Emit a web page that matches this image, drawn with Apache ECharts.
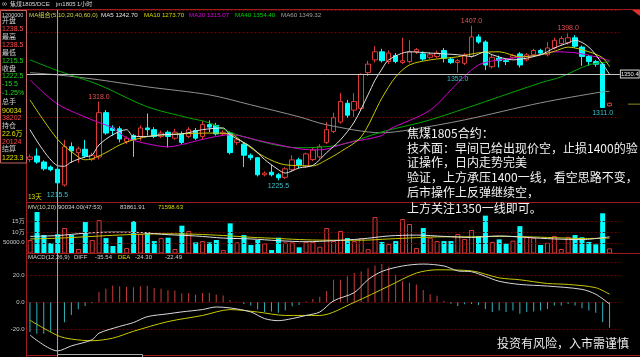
<!DOCTYPE html>
<html><head><meta charset="utf-8">
<script src="https://cdn.jsdelivr.net/npm/echarts@6/dist/echarts.min.js"></script>
<style>html,body{margin:0;padding:0;background:#000;}#c{width:640px;height:357px;}</style>
</head><body><div id="c"></div>
<script>
// ---------- data ----------
const categories = Array.from({length: 86}, (_, i) => 'K' + (i + 1));
// [open, close, low, high]
const candles = [
[1250,1253,1247,1256],[1254,1247,1245,1263],[1247,1239,1237,1249],[1241,1238,1236,1243],[1238.5,1222.5,1215.5,1238.5],
[1220,1265,1218,1273],[1265,1260,1246,1270],[1258,1262.5,1246,1265],[1262,1254,1252,1273],[1250,1255,1248,1258],
[1253,1305,1250,1318],[1305,1281,1279,1308],[1287,1284,1278,1290],[1286,1274,1270,1289],[1271,1275,1268,1277],
[1278,1273,1253,1280],[1277,1287,1272,1290],[1287,1285,1278,1304],[1285,1277,1275,1288],[1277,1281,1275,1284],
[1282,1277,1264,1284],[1275,1282,1273,1286],[1280,1270,1268,1283],[1277,1285,1275,1288],[1284,1275,1273,1287],
[1277,1291,1274,1295],[1291,1288,1282,1296],[1290,1280,1278,1293],[1280,1282,1278,1284],[1281,1258,1256,1283],
[1270,1273,1267,1275],[1268,1255,1241,1270],[1255,1252,1249,1257],[1252,1232,1230,1253],[1232,1234,1230,1236],
[1235,1232,1230,1244],[1232,1228.5,1225.5,1234],[1229,1239,1227,1241],[1238,1249.5,1236,1255],[1249.5,1243.5,1240,1252],
[1242,1256.5,1240,1258],[1250,1261,1248,1264],[1253,1265,1251,1268],[1270,1285,1268,1294],[1283,1299,1281,1305],
[1294,1318,1292,1328],[1316,1302,1299,1320],[1308,1318,1300,1328],[1310,1350,1308,1351],[1352,1362,1348,1366],
[1367,1376.5,1364,1383],[1376.5,1366,1364,1380],[1365,1375,1362,1378],[1372,1365,1363,1375],[1364,1366,1362,1393],
[1365,1376.5,1363,1390],[1376.5,1379,1374,1381],[1374,1368,1366,1377],[1370,1373,1368,1376],[1371,1375,1369,1378],
[1378,1369,1364,1381],[1368,1364,1362,1370],[1364,1366,1352,1368],[1363,1373,1361,1375],[1371,1394,1369,1407],
[1394,1388,1386,1397],[1388,1361,1355,1390],[1359,1370,1357,1373],[1369,1366,1358,1372],[1366,1365,1361,1368],
[1370,1372,1368,1374],[1374,1361,1358,1376],[1367,1373,1365,1375],[1373,1378,1371,1380],[1378,1375,1373,1380],
[1373,1381,1371,1388],[1381,1390,1379,1393],[1386,1392,1384,1395],[1387,1393,1385,1398],[1393,1383,1381,1396],
[1382,1371,1360,1384],[1371,1365,1360,1373],[1365,1362,1359,1367],[1362,1311,1311,1363],[1313,1316,1312,1317]
];
const volumes = [
63000,194000,86500,49000,90034,119000,86500,21000,147000,63000,
156000,72000,35000,78000,26000,152000,91000,100000,58000,72000,
74000,21000,130000,105000,52000,58000,52000,63000,16000,141000,
52000,86000,40000,63000,47000,16000,74000,52000,52000,29000,
55000,55000,32000,119000,58000,105000,72000,58000,72000,20000,
170000,54000,44000,58000,161000,138000,26000,119000,74000,58000,
58000,58000,91000,68000,110000,82000,177000,54000,66000,46000,
60000,128000,78000,74000,40000,50000,82000,21000,78000,86000,
76000,54000,43000,188000,24000
];
const macdHist = [
-21.7,-22.9,-22.9,-21.7,-22.49,-14.5,-9.3,-5,-2.6,-0.7,
7.6,10,12.4,11.7,11.2,11,11.7,12.1,10.5,10,
8.8,8.6,6.4,6.9,5.7,6.9,6.9,5.7,5,1.7,
0.5,-1.2,-2.4,-5.2,-7.1,-6.7,-7.6,-6,-2.9,-1.9,
0.8,2.5,4,8.3,16.6,16.6,19,21.4,22.6,25,
27,28,26,20.2,15.5,14.3,13,9,5.9,4.8,
1.2,-1,-2.7,-1.4,-1.2,-1.9,-4.8,-7.1,-6,-7.1,
-6,-8.3,-7.1,-6.7,-6,-4.8,-2.4,-2.4,-1.2,-2.4,
-4.3,-6,-7.6,-14.3,-18.6
];
// moving-average lines: [candle index, value]
const ma5 = [[0,1285],[4,1242.7],[5,1242],[6,1247],[8,1253],[9,1255],[10,1267],[12,1279],[14,1285],[15,1277],[17,1277],[19,1279],[22,1280],[25,1285],[28,1287],[29,1279],[32,1265],[34,1250],[36,1238],[37,1234],[39,1240],[41,1243],[43,1258],[45,1273],[47,1294],[49,1326],[50,1343],[51,1356],[52,1367],[55,1376.5],[58,1375],[62,1373],[64,1371],[66,1376.5],[67,1373],[70,1367],[74,1373],[76,1381],[78,1387],[79,1390],[81,1382],[83,1362],[84,1350]];
const ma10 = [[0,1320],[4,1273.7],[7,1253],[8,1249.6],[9,1250.7],[11,1258],[13,1267],[15,1273],[18,1278],[26,1281],[29,1280],[31,1269.5],[34,1253],[37,1243.7],[41,1242.5],[43,1249.6],[45,1259],[48,1276.6],[51,1322],[53,1347],[55,1361],[58,1367],[62,1370.6],[65,1375.3],[68,1376.5],[71,1370.6],[74,1373],[76,1377],[78,1382],[81,1376.5],[83,1369.4],[84,1359]];
const ma20 = [[0,1343.6],[4,1315.07],[9,1296.5],[12,1287],[14,1275.4],[17,1268.4],[20,1264.8],[23,1269.5],[26,1275.4],[29,1279],[34,1270.7],[39,1262.5],[42,1261.3],[46,1269.5],[51,1278],[52,1285],[58,1308],[62,1340],[65,1361],[68,1367],[74,1373],[76,1376.5],[79,1375.3],[82,1370.6],[84,1366]];
const ma40 = [[0,1367],[4,1354.4],[10,1337.7],[17,1311.8],[23,1298.9],[26,1293],[30,1279],[39,1263.7],[45,1267.2],[51,1282.4],[58,1296.5],[74,1340],[77,1347.1],[81,1361.2],[84,1364.7]];
const ma60 = [[0,1352],[4,1349.32],[10,1343.6],[17,1335.3],[26,1325.9],[32,1314.2],[39,1300.1],[43,1290.7],[51,1281.3],[55,1284.8],[63,1296.5],[74,1316.5],[83,1329.5],[84,1330]];
const mv10 = [[0,80000],[4,83862],[8,95000],[12,100000],[16,98000],[20,88000],[24,82000],[28,72000],[32,68000],[36,60000],[40,55000],[44,60000],[48,68000],[52,82000],[56,86000],[60,80000],[64,75000],[68,82000],[72,75000],[76,68000],[80,65000],[84,78000]];
const mv20 = [[0,68000],[4,71599],[8,78000],[12,85000],[16,90000],[20,92000],[24,90000],[28,84000],[32,76000],[36,70000],[40,64000],[44,62000],[48,62000],[52,68000],[56,74000],[60,78000],[64,78000],[68,80000],[72,78000],[76,74000],[80,70000],[84,72000]];
const diffLine = [[0,-23.9],[4,-35.54],[6,-31.9],[9,-27.4],[10,-22.6],[13,-17.6],[15,-14.8],[17,-10.5],[20,-8.4],[22,-7],[25,-5.3],[27,-3.4],[29,-4.1],[32,-7],[34,-11.9],[36,-13.4],[38,-11.9],[40,-9.6],[42,-7.1],[44,1.1],[47,7.1],[49,16.6],[51,22.6],[54,26.6],[57,28],[60,26.6],[62,23],[64,22.4],[66,19],[68,15.4],[71,13.1],[75,11.9],[80,9.5],[82,5.9],[84,-1.2]];
const deaLine = [[0,-13.1],[4,-24.30],[6,-26.9],[9,-28.1],[12,-26.2],[15,-21.2],[20,-14.1],[25,-9.6],[29,-5.3],[33,-7.1],[37,-9.6],[42,-9.6],[47,0],[52,11.9],[56,21.4],[59,23.8],[64,23],[68,17.9],[71,16.5],[75,13.8],[78,13.1],[82,10.7],[84,5.9]];
const highLabels = [[10,1318.0],[64,1407.0],[78,1398.0]];
const lowLabels = [[4,1215.5],[36,1225.5],[62,1352.0],[83,1311.0]];
const refPrice = 1350.4;
const sideMarkPrice = 1315;
const crossIndex = 4;
const volTickLabels = {50000:'50000.0', 100000:'10万', 150000:'15万'};
const volGridLines = [50000, 100000, 150000];
const infoRows = [
 ['1200000','#d0d0d0'],['开盘','#d0d0d0'],['1238.5','#ff4a4a'],['最高','#d0d0d0'],['1238.5','#ff4a4a'],
 ['最低','#d0d0d0'],['1215.5','#20d020'],['收盘','#d0d0d0'],['1222.5','#20d020'],['-15.5','#20d020'],
 ['-1.25%','#20d020'],['总手','#d0d0d0'],['90034','#e0e000'],['38202','#ff4a4a'],['持仓','#d0d0d0'],
 ['22.6万','#e0e000'],['20124','#ff4a4a'],['结算','#d0d0d0'],['1223.3','#e0e000']
];
const infoY = [15,21,29,37,45,53,61,69,76,84,93,102,111,118,126,134,142,149,158];
const maLegend = [['MA组合(5,10,20,40,60,0)',29,'#d0d040'],['MA5 1242.70',101,'#e0e0e0'],['MA10 1273.70',144,'#d8d800'],['MA20 1315.07',189,'#e000e0'],['MA40 1354.40',235,'#00d000'],['MA60 1349.32',281,'#a0a0a0']];
const mvLegend = [['MV(10,20)',28,'#d0d0b0'],['90034.00(47:53)',58,'#d0d0d0'],['83861.91',120,'#d0d0d0'],['71598.63',158,'#d8d800']];
const macdLegend = [['MACD(12,26,9)',28,'#d0d0d0'],['DIFF',74,'#d0d0d0'],['-35.54',95,'#d0d0d0'],['DEA',118,'#d8d800'],['-24.30',135,'#d0d0d0'],['-22.49',165,'#d0d0d0']];
const noteLines = ['焦煤1805合约：','技术面：早间已给出现价空，止损1400的验','证操作，日内走势完美','验证，上方承压1400一线，看空思路不变，','后市操作上反弹继续空，','上方关注1350一线即可。'];
const noteY = [133,148,162.5,177.5,192,208];

// ---------- chart ----------
const RED = '#dc3a38', CYAN = '#00ffff', GRIDRED = '#6e0000', BORDER = '#a01c1c';
const SMALL = '"Liberation Sans","Noto Sans CJK SC"';
const GL = 26.5, GW = 593.4;
const chart = echarts.init(document.getElementById('c'), null, {width:640, height:357});
const hidden = {show:false};
const line = (data, color, xi, yi, z) => ({type:'line', data, xAxisIndex:xi, yAxisIndex:yi, symbol:'none', smooth:0.3, z:z||3,
  lineStyle:{color, width:1}, silent:true});

const option = {
  backgroundColor:'#000',
  animation:false,
  grid:[
    {left:GL, width:GW, top:10, height:192},
    {left:GL, width:GW, top:203, height:50.5},
    {left:GL, width:GW, top:262.7, height:96.6}
  ],
  xAxis:[0,1,2].map(g => ({type:'category', gridIndex:g, data:categories, boundaryGap:true,
    axisLine:hidden, axisTick:hidden, axisLabel:hidden, splitLine:hidden})),
  yAxis:[
    {type:'value', gridIndex:0, min:1200, max:1425.6, interval:100, axisLine:hidden, axisTick:hidden, axisLabel:hidden,
     splitLine:{show:true, lineStyle:{color:GRIDRED, type:[2,2], width:1}}},
    {type:'value', gridIndex:1, min:0, max:236000, interval:50000, axisLine:hidden, axisTick:hidden,
     axisLabel:{show:true, fontSize:6, color:'#c8c8c8', margin:2, fontFamily:SMALL, formatter:v => volTickLabels[v] || ''},
     splitLine:hidden},
    {type:'value', gridIndex:2, min:-40, max:29, interval:20, axisLine:hidden, axisTick:hidden,
     axisLabel:{show:true, fontSize:6, color:'#c8c8c8', margin:2, fontFamily:SMALL, formatter:v => (v > -40 && v < 29) ? v.toFixed(1) : ''},
     splitLine:{show:true, lineStyle:{color:GRIDRED, type:[2,2], width:1}}}
  ],
  series:[
    {type:'candlestick', xAxisIndex:0, yAxisIndex:0, data:candles, barWidth:5, silent:true,
     itemStyle:{color:'#000', color0:CYAN, borderColor:RED, borderColor0:CYAN, borderWidth:1},
     markLine:{symbol:['none','none'], silent:true, animation:false,
       lineStyle:{color:'#c8c8c8', width:1, type:'solid'},
       label:{show:true, position:'end', distance:1, formatter:refPrice.toFixed(1), color:'#e8e8e8', fontSize:5.8, fontFamily:SMALL,
              backgroundColor:'#000', borderColor:'#c8c8c8', borderWidth:1, padding:[1,0,0,0]},
       data:[{yAxis:refPrice}]},
     markPoint:{symbol:'rect', symbolSize:[1,1], silent:true, animation:false, itemStyle:{color:'rgba(0,0,0,0)'},
       data:[
         ...highLabels.map(([i,v]) => ({coord:[i,v], value:v, label:{show:true, position:'top', distance:1, color:'#e85050', fontSize:7, fontFamily:SMALL, formatter:p => p.value.toFixed(1)}})),
         ...lowLabels.map(([i,v]) => ({coord:[i,v], value:v, label:{show:true, position:'bottom', distance:2, color:'#38c0c8', fontSize:7, fontFamily:SMALL, formatter:p => p.value.toFixed(1)}}))
       ]}
    },
    line(ma60,'#909090',0,0),
    line(ma40,'#00a800',0,0),
    line(ma20,'#d000d0',0,0),
    line(ma10,'#c8c800',0,0),
    line(ma5,'#e0e0e0',0,0),
    {type:'bar', xAxisIndex:1, yAxisIndex:1, barWidth:5, silent:true,
     data:volumes.map((v,i) => ({value:v, itemStyle: candles[i][1] >= candles[i][0] ? {color:'#000', borderColor:RED, borderWidth:1} : {color:CYAN}})),
     markLine:{symbol:['none','none'], silent:true, animation:false, label:hidden,
       lineStyle:{color:GRIDRED, type:[2,2], width:1}, data:volGridLines.map(v => ({yAxis:v}))}},
    line(mv20,'#c8c800',1,1,4),
    line(mv10,'#e0e0e0',1,1,4),
    {type:'bar', xAxisIndex:2, yAxisIndex:2, barWidth:1, silent:true,
     data:macdHist.map(v => ({value:v, itemStyle:{color: v >= 0 ? '#c83c3c' : '#30b4bc'}}))},
    line(deaLine,'#c8c800',2,2,4),
    line(diffLine,'#d8d8d8',2,2,4)
  ]
};
chart.setOption(option);

// ---------- annotations ----------
const cx = chart.convertToPixel({xAxisIndex:0}, categories[crossIndex]);
const sideY = chart.convertToPixel({yAxisIndex:0}, sideMarkPrice);
const T = (x, y, text, fill, size, family, z) => ({type:'text', x, y, z:z||100, silent:true,
  style:{text, fill, fontSize:size, fontFamily:family||SMALL, verticalAlign:'middle', align:'left'}});
const L = (x1,y1,x2,y2,stroke,z) => ({type:'line', z:z||90, silent:true, shape:{x1,y1,x2,y2}, style:{stroke, lineWidth:1}});
const g = [];
// borders
g.push(L(0,9.5,640,9.5,BORDER));
g.push(L(26.5,9.5,26.5,357,BORDER));
g.push(L(26.5,202.5,640,202.5,BORDER));
g.push(L(26.5,253.5,640,253.5,BORDER));
g.push(L(26.5,355.5,640,355.5,BORDER));
g.push({type:'polygon', z:95, silent:true, shape:{points:[[632,10],[640,10],[640,16]]}, style:{fill:'#e03030'}});
g.push({type:'rect', z:95, silent:true, shape:{x:0.5,y:10.5,width:26,height:152.5}, style:{stroke:'#c46464', fill:'none', lineWidth:1}});
// crosshair
g.push(L(cx,10,cx,357,'#a8a8a8',96));
g.push({type:'rect', z:97, silent:true, shape:{x:cx,y:354.5,width:85,height:10}, style:{stroke:'#a8a8a8', fill:'#000', lineWidth:1}});
// side marker
g.push(L(628,sideY,640,sideY,'#8c8c20',95));
// header
g.push(T(2,4.5,'∞','#d8d8d8',7));
g.push(T(10,4.5,'焦煤1805/DCE','#d8d8d8',6));
g.push(T(56,4.5,'jm1805','#d8d8d8',6));
g.push(T(77,4.5,'1小时','#d8d8d8',6));
// info panel
infoRows.forEach(([t,c],k) => g.push(T(2, infoY[k], t, c, k === 0 ? 5.5 : 7)));
// legends
maLegend.forEach(([t,x,c]) => g.push(T(x,15,t,c,6.2)));
mvLegend.forEach(([t,x,c]) => g.push(T(x,207,t,c,6)));
macdLegend.forEach(([t,x,c]) => g.push(T(x,257.5,t,c,6)));
g.push(T(28,197.5,'13天','#d8d800',6.5));
// notes
noteLines.forEach((t,k) => g.push(T(407, noteY[k], t, '#f2f2f2', 12, '"Noto Sans CJK SC"')));
g.push(T(497,343,'投资有风险，入市需谨慎','#e8e8e8',12,'"Noto Sans CJK SC"'));
chart.setOption({graphic:g});
</script>
</body></html>
